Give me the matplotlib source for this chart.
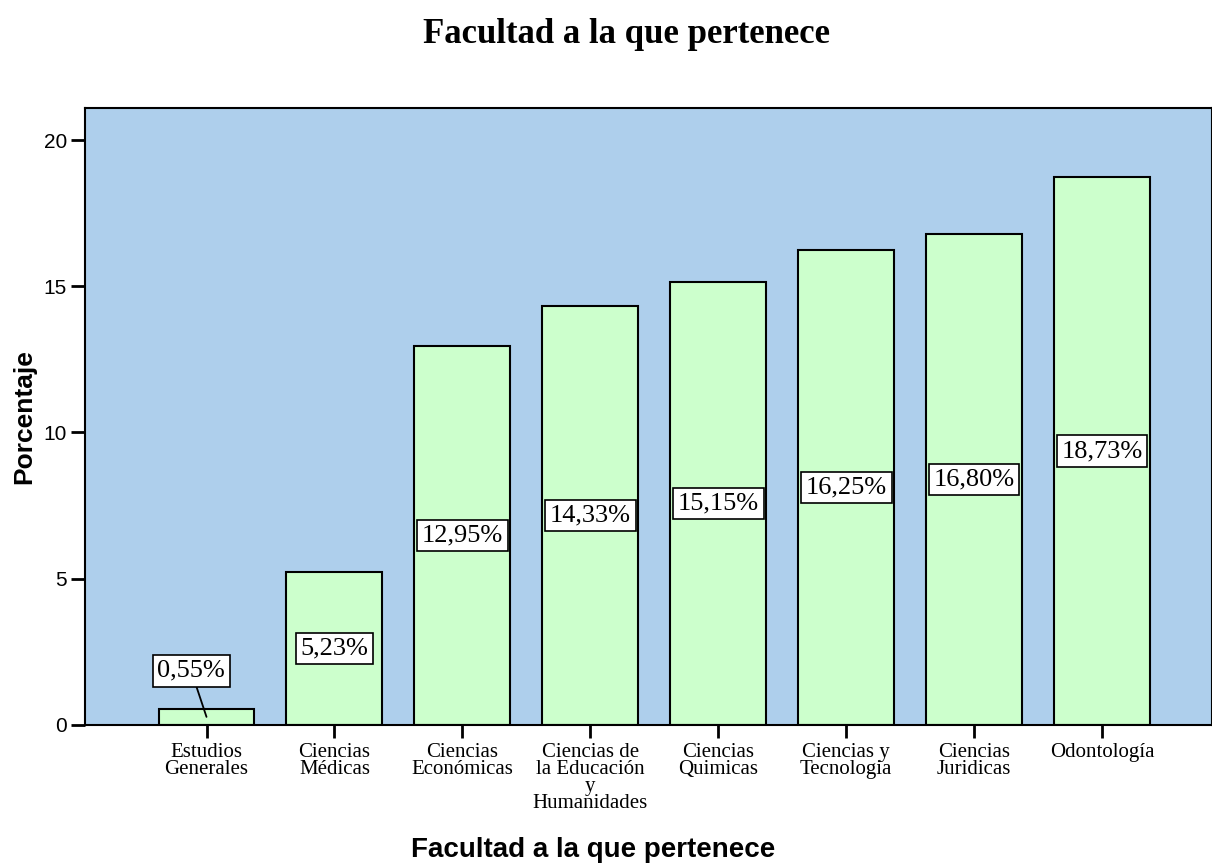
import numpy as np
import matplotlib
matplotlib.use("Agg")
import matplotlib.pyplot as plt

# ----------------------------- DATA
facultades = ['Estudios\nGenerales', 'Ciencias\nMédicas', 'Ciencias\nEconómicas',
              'Ciencias de\nla Educación\ny\nHumanidades', 'Ciencias\nQuimicas',
              'Ciencias y\nTecnologia', 'Ciencias\nJuridicas', 'Odontología']
porcentaje = [0.55, 5.23, 12.95, 14.33, 15.15, 16.25, 16.80, 18.73]
etiquetas = ['0,55%', '5,23%', '12,95%', '14,33%', '15,15%', '16,25%', '16,80%', '18,73%']

serif = 'Liberation Serif'
sans = 'Liberation Sans'

# ----------------------------- FIGURE
fig = plt.figure(figsize=(12.12, 8.63), dpi=100)
ax = fig.add_axes([0.0701, 0.16, 0.93, 0.715])
ax.set_facecolor('#aecfec')

x = np.arange(len(facultades))
ax.bar(x, porcentaje, width=0.75, color='#ccffcc', edgecolor='black', linewidth=1.5, zorder=2)

box = dict(boxstyle='square,pad=0.18', facecolor='white', edgecolor='black', linewidth=1.2)
for i, (v, t) in enumerate(zip(porcentaje, etiquetas)):
    if v < 2:
        ax.annotate(t, xy=(i, v / 2), xytext=(i - 0.12, 1.85), ha='center', va='center',
                    fontsize=19, family=serif, bbox=box, zorder=4,
                    arrowprops=dict(arrowstyle='-', color='black', lw=1.3, shrinkA=0, shrinkB=0))
    else:
        ax.text(i, v / 2, t, ha='center', va='center', fontsize=19, family=serif,
                bbox=box, zorder=4)

ax.set_xlim(-0.95, 7.86)
ax.set_ylim(0, 21.1)
ax.set_yticks([0, 5, 10, 15, 20])
ax.set_xticks(x)
ax.set_xticklabels(facultades, family=serif, fontsize=15, linespacing=0.85)
ax.tick_params(axis='y', labelsize=15, length=10, width=2, pad=3)
ax.tick_params(axis='x', length=9, width=2, pad=4)
for lab in ax.get_yticklabels():
    lab.set_family(sans)

for s in ax.spines.values():
    s.set_linewidth(1.5)

ax.set_ylabel('Porcentaje', family=sans, fontsize=19, fontweight='bold')
ax.yaxis.set_label_coords(-0.043, 0.5)
fig.text(0.489, 0.015, 'Facultad a la que pertenece', family=sans, fontsize=20,
         fontweight='bold', ha='center', va='center')
fig.text(0.517, 0.960, 'Facultad a la que pertenece', family=serif, fontsize=25,
         fontweight='bold', ha='center', va='center')

fig.savefig('out.png', dpi=100)
